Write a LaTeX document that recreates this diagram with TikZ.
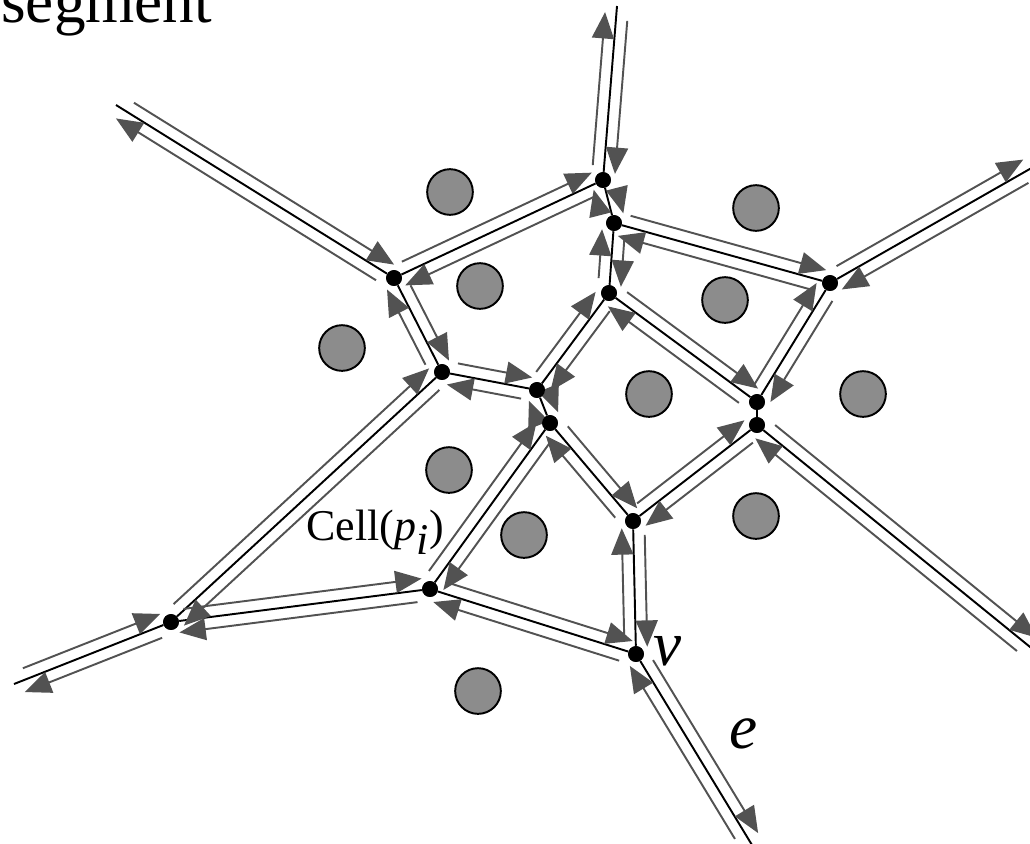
\documentclass[tikz,border=0pt]{standalone}
\usepackage{fontspec}
\setmainfont{Liberation Serif}
\usetikzlibrary{arrows.meta,calc}
\definecolor{halfgray}{gray}{0.32}
\tikzset{
  vtx/.style={circle, fill=black, inner sep=0pt, minimum size=9pt},
  site/.style={circle, draw=black, line width=1.1pt, fill=black!45, inner sep=0pt, minimum size=26pt},
  bisector/.style={line width=1.1pt, black},
  half/.style={line width=1.1pt, draw=halfgray, shorten <=8pt, shorten >=4pt,
    -{Triangle[length=15pt, width=12.5pt, fill=halfgray]}},
  lbl/.style={inner sep=0pt, anchor=base west}
}

\begin{document}
\begin{tikzpicture}[x=0.02cm, y=-0.02cm]
  \useasboundingbox (0,0) rectangle (1030,843);
  \clip (0,0) rectangle (1030,843);

  % sites
  \foreach \x/\y [count=\k] in {450/192, 480/286, 342/348, 756/208, 725/300, 649/394,
      863/394, 449/470, 524/535, 756/516, 478/691}
    \node[site] (p_\k) at (\x,\y) {};

  % Voronoi vertices
  \node[vtx] (A) at (394,278) {};
  \node[vtx] (B) at (603,180) {};
  \node[vtx] (C) at (614,223) {};
  \node[vtx] (D) at (609,293) {};
  \node[vtx] (E) at (830,283) {};
  \node[vtx] (F) at (442,372) {};
  \node[vtx] (G) at (537,390) {};
  \node[vtx] (H) at (550,423) {};
  \node[vtx] (I) at (757,402) {};
  \node[vtx] (J) at (757,425) {};
  \node[vtx] (K) at (633,521) {};
  \node[vtx] (L) at (430,589) {};
  \node[vtx] (M) at (171,622) {};
  \node[vtx] (N) at (636,654) {};

  % unbounded edges leave the picture
  \coordinate (far_nw) at (116,105);
  \coordinate (far_n) at (617,6);
  \coordinate (far_ne) at (1035,166);
  \coordinate (far_se) at (1035,651);
  \coordinate (far_s) at (752,845);
  \coordinate (far_w) at (14,684);

  % edges
  \foreach \a/\b in {A/far_nw, A/B, A/F, B/far_n, B/C, C/D, C/E, E/far_ne, E/I, D/G, D/I,
      F/G, F/M, G/H, H/L, H/K, I/J, J/K, J/far_se, K/N, L/M, L/N, M/far_w, N/far_s}
    \draw[bisector] (\a) -- (\b);

  % twin half-edges, each on the left of its direction
  \foreach \a/\b in {A/far_nw, A/B, A/F, B/far_n, B/C, C/D, C/E, E/far_ne, E/I, D/G, D/I,
      F/G, F/M, G/H, H/L, H/K, J/K, J/far_se, K/N, L/M, L/N, M/far_w, N/far_s} {
    \draw[half] ($(\a)!6.5pt!90:(\b)$) -- ($(\b)!6.5pt!-90:(\a)$);
    \draw[half] ($(\b)!6.5pt!90:(\a)$) -- ($(\a)!6.5pt!-90:(\b)$);
  }

  % redraw the dots on top
  \foreach \v in {A,B,C,D,E,F,G,H,I,J,K,L,M,N}
    \fill (\v) circle (4.5pt);

  \node[lbl, font=\fontsize{36}{40}\selectfont] (seg) at (1,22) {segment};
  \node[lbl, font=\fontsize{25}{28}\selectfont] (cell) at (306,540) {Cell(\textit{p}$_{\textit{i}}$)};
  \node[lbl, font=\fontsize{36}{40}\selectfont\itshape] (v_lab) at (653,665) {v};
  \node[lbl, font=\fontsize{36}{40}\selectfont\itshape] (e_lab) at (729,748) {e};
\end{tikzpicture}
\end{document}
